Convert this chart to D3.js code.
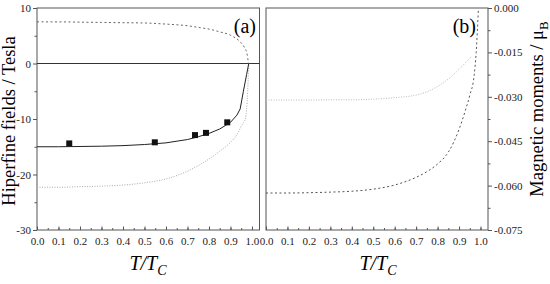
<!DOCTYPE html>
<html>
<head>
<meta charset="utf-8">
<script src="https://cdn.jsdelivr.net/npm/d3@7"></script>
<style>
    body { margin: 0; background: #fff; }
    .axis path, .axis line { stroke: #555; }
</style>
</head>
<body>
<div id="chart"></div>
<script>
// Panel (a): hyperfine fields (Tesla) vs T/Tc
const tSolid = [0, 0.1, 0.2, 0.3, 0.4, 0.5, 0.6, 0.7, 0.75, 0.8, 0.85, 0.9, 0.93, 0.945, 0.96, 0.975, 0.985];
const fieldSolid = [-15.0, -15.0, -14.95, -14.9, -14.8, -14.6, -14.3, -13.7, -13.2, -12.6, -11.8, -10.6, -9.3, -8.2, -5.0, -2.0, 0];

const tUpper = [0, 0.1, 0.2, 0.3, 0.4, 0.5, 0.6, 0.7, 0.76, 0.8, 0.85, 0.9, 0.945, 0.965, 0.976, 0.984];
const fieldUpper = [7.5, 7.5, 7.45, 7.4, 7.35, 7.3, 7.1, 6.8, 6.45, 6.2, 5.7, 5.1, 3.9, 2.9, 1.9, 0];

const tLower = [0, 0.1, 0.2, 0.3, 0.4, 0.5, 0.6, 0.7, 0.8, 0.85, 0.9, 0.93, 0.95, 0.97, 0.98, 0.985];
const fieldLower = [-22.3, -22.3, -22.2, -22.1, -21.9, -21.5, -20.8, -19.4, -17.2, -15.8, -14.2, -12.8, -11.3, -9.8, -5.0, 0];

const tExp = [0.15, 0.548, 0.735, 0.786, 0.885];
const fieldExp = [-14.4, -14.2, -12.9, -12.5, -10.6];

// Panel (b): magnetic moments (muB) vs T/Tc
const tDashB = [0, 0.1, 0.2, 0.3, 0.4, 0.5, 0.6, 0.7, 0.75, 0.8, 0.85, 0.9, 0.93, 0.95, 0.97, 0.98, 0.99];
const momentDashB = [-0.0625, -0.0625, -0.0624, -0.0622, -0.0619, -0.0612, -0.0598, -0.0572, -0.0553, -0.0527, -0.0487, -0.0410, -0.0345, -0.0295, -0.0230, -0.0150, -0.0005];

const tDotB = [0, 0.1, 0.2, 0.3, 0.4, 0.5, 0.6, 0.7, 0.75, 0.8, 0.85, 0.9, 0.93, 0.96];
const momentDotB = [-0.0311, -0.0311, -0.0311, -0.031, -0.031, -0.0308, -0.0303, -0.0294, -0.0283, -0.0265, -0.0240, -0.0207, -0.0185, -0.0163];

const xTicks = [0, 0.1, 0.2, 0.3, 0.4, 0.5, 0.6, 0.7, 0.8, 0.9, 1.0];
const yTicksA = [10, 0, -10, -20, -30];
const yTicksB = [0, -0.015, -0.030, -0.045, -0.060, -0.075];

const width = 550, height = 284;
const plotTop = 8, plotBottom = 230;
const serif = '"Liberation Serif", "Times New Roman", "DejaVu Serif", serif';

const svg = d3.select('#chart').append('svg')
    .attr('width', width)
    .attr('height', height)
    .attr('font-family', serif);

const zip = (xs, ys) => xs.map((x, i) => [x, ys[i]]);
// plain hyphen instead of the unicode minus d3 uses
const hyphen = fmt => d => fmt(d).replace('\u2212', '-');

function styleAxis(a) {
    a.select('.domain').remove();
    a.attr('font-family', serif).attr('font-size', 11);
    a.selectAll('text').attr('fill', '#222');
}

function drawPanel(left, right, yDomain, yTicks, yFmt, yMinor, ySide) {
    const x = d3.scaleLinear().domain([0, 1.035]).range([left, right]);
    const y = d3.scaleLinear().domain(yDomain).range([plotBottom, plotTop]);
    const g = svg.append('g');

    // x axis, inward ticks
    g.append('g').attr('class', 'axis')
        .attr('transform', `translate(0, ${plotBottom})`)
        .call(d3.axisBottom(x).tickValues(d3.range(0, 1.0001, 0.05)).tickSize(-2).tickFormat(''))
        .call(styleAxis);
    g.append('g').attr('class', 'axis')
        .attr('transform', `translate(0, ${plotBottom})`)
        .call(d3.axisBottom(x).tickValues(xTicks).tickSize(-3.5).tickPadding(7).tickFormat(d3.format('.1f')))
        .call(styleAxis);

    // y axis with minor ticks
    const axisY = ySide === 'left' ? d3.axisLeft : d3.axisRight;
    const xPos = ySide === 'left' ? left : right;
    g.append('g').attr('class', 'axis')
        .attr('transform', `translate(${xPos}, 0)`)
        .call(axisY(y).tickValues(yMinor).tickSize(2.5).tickFormat(''))
        .call(styleAxis);
    g.append('g').attr('class', 'axis')
        .attr('transform', `translate(${xPos}, 0)`)
        .call(axisY(y).tickValues(yTicks).tickSize(4).tickPadding(2).tickFormat(hyphen(yFmt)))
        .call(styleAxis);

    // frame
    g.append('rect')
        .attr('x', left).attr('y', plotTop)
        .attr('width', right - left).attr('height', plotBottom - plotTop)
        .attr('fill', 'none')
        .attr('stroke', '#555')
        .attr('stroke-width', 1);

    return { x, y, g };
}

const pa = drawPanel(37, 259.5, [-30, 10], yTicksA, d3.format('d'), d3.range(-25, 10, 10), 'left');
const pb = drawPanel(266, 488, [-0.075, 0], yTicksB, d3.format('.3f'), d3.range(-0.0675, 0, 0.015), 'right');

// panel (a) curves
const lineA = d3.line().x(d => pa.x(d[0])).y(d => pa.y(d[1])).curve(d3.curveMonotoneX);

pa.g.append('line')
    .attr('x1', pa.x(0)).attr('x2', pa.x(1.035))
    .attr('y1', pa.y(0)).attr('y2', pa.y(0))
    .attr('stroke', '#333').attr('stroke-width', 1);

pa.g.append('path')
    .attr('d', lineA(zip(tUpper, fieldUpper)))
    .attr('fill', 'none').attr('stroke', '#666')
    .attr('stroke-width', 1).attr('stroke-dasharray', '2,2.5');

pa.g.append('path')
    .attr('d', lineA(zip(tLower, fieldLower)))
    .attr('fill', 'none').attr('stroke', '#aaa')
    .attr('stroke-width', 1).attr('stroke-dasharray', '1,1.5');

pa.g.append('path')
    .attr('d', d3.line().x(d => pa.x(d[0])).y(d => pa.y(d[1]))(zip(tSolid, fieldSolid)))
    .attr('fill', 'none').attr('stroke', '#222')
    .attr('stroke-width', 1);

pa.g.selectAll('rect.pt')
    .data(zip(tExp, fieldExp))
    .join('rect')
    .attr('class', 'pt')
    .attr('x', d => pa.x(d[0]) - 3)
    .attr('y', d => pa.y(d[1]) - 3)
    .attr('width', 6).attr('height', 6)
    .attr('fill', '#111');

// panel (b) curves
const lineB = d3.line().x(d => pb.x(d[0])).y(d => pb.y(d[1])).curve(d3.curveMonotoneX);

pb.g.append('path')
    .attr('d', lineB(zip(tDotB, momentDotB)))
    .attr('fill', 'none').attr('stroke', '#bbb')
    .attr('stroke-width', 1).attr('stroke-dasharray', '1,1.5');

pb.g.append('path')
    .attr('d', lineB(zip(tDashB, momentDashB)))
    .attr('fill', 'none').attr('stroke', '#555')
    .attr('stroke-width', 1).attr('stroke-dasharray', '2,2.5');

// panel labels
svg.append('text').attr('x', 256).attr('y', 33).attr('text-anchor', 'end')
    .attr('font-size', 20).text('(a)');
svg.append('text').attr('x', 476).attr('y', 33).attr('text-anchor', 'end')
    .attr('font-size', 20).text('(b)');

// axis titles
function xTitle(cx) {
    const t = svg.append('text').attr('x', cx).attr('y', 270)
        .attr('text-anchor', 'middle')
        .attr('font-size', 20).attr('font-style', 'italic');
    t.append('tspan').text('T/T');
    t.append('tspan').attr('dy', 5).attr('font-size', 14).text('C');
}
xTitle(148);
xTitle(378);

svg.append('text')
    .attr('transform', 'translate(15, 121) rotate(-90)')
    .attr('text-anchor', 'middle')
    .attr('font-size', 18.5)
    .text('Hiperfine fields / Tesla');

const yt = svg.append('text')
    .attr('transform', 'translate(543, 109) rotate(-90)')
    .attr('text-anchor', 'middle')
    .attr('font-size', 18.5);
yt.append('tspan').text('Magnetic moments / μ');
yt.append('tspan').attr('dy', 5).attr('font-size', 13).text('B');
</script>
</body>
</html>
